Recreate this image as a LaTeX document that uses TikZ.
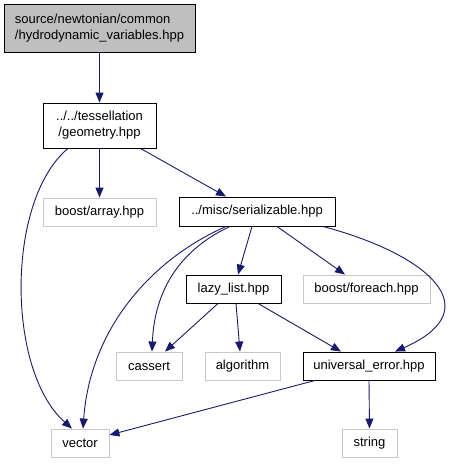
\documentclass[tikz,border=0pt]{standalone}
\usepackage{fontspec}
\setmainfont{Liberation Sans}
\usetikzlibrary{arrows.meta}
\definecolor{edgeblue}{HTML}{191970}
\definecolor{extgray}{HTML}{C8C8C8}
\definecolor{topfill}{HTML}{BFBFBF}
\begin{document}
\begin{tikzpicture}[x=1pt,y=-1pt,
  box/.style={draw=black,line width=0.9pt,fill=white,inner sep=0pt,minimum height=28pt,
    font=\fontsize{13}{16}\selectfont,text=black},
  extbox/.style={box,draw=extgray},
  edge/.style={draw=edgeblue,line width=0.9pt,-{Triangle[length=10pt,width=8pt]}}]
\useasboundingbox[fill=white] (0,0) rectangle (453,464);

\node[box,fill=topfill,minimum width=191pt,minimum height=48pt,align=left] (top) at (99.5,28)
  {source/newtonian/common\\/hydrodynamic\_variables.hpp};
\node[box,minimum width=113pt,minimum height=45pt,align=center] (geo) at (99.5,125.5)
  {../../tessellation\\/geometry.hpp};
\node[extbox,minimum width=113pt] (arr) at (99.5,212) {boost/array.hpp};
\node[box,minimum width=156pt,minimum height=29pt] (ser) at (257,211.5) {../misc/serializable.hpp};
\node[box,minimum width=95pt] (lazy) at (233.5,289) {lazy\_list.hpp};
\node[extbox,minimum width=127pt] (fore) at (366.5,289) {boost/foreach.hpp};
\node[extbox,minimum width=66pt] (cas) at (149,366) {cassert};
\node[extbox,minimum width=75pt] (alg) at (242.5,366) {algorithm};
\node[box,minimum width=132pt] (ue) at (369,366) {universal\_error.hpp};
\node[extbox,minimum width=58pt] (vec) at (80,443) {vector};
\node[extbox,minimum width=55pt] (str) at (369.5,443) {string};

\draw[edge] (top.south) -- (geo.north);
\draw[edge] (geo.south) -- (arr.north);
\draw[edge] ([xshift=-31.5pt]geo.south) .. controls (6,200) and (6,370) .. ([xshift=-8pt]vec.north);
\draw[edge] ([xshift=41pt]geo.south) -- ([xshift=-31pt]ser.north);
\draw[edge] ([xshift=-31pt]ser.south) .. controls (150,260) and (90,330) .. ([xshift=3pt]vec.north);
\draw[edge] ([xshift=-27pt]ser.south) .. controls (190,245) and (155,280) .. ([xshift=3pt]cas.north);
\draw[edge] ([xshift=-5pt]ser.south) -- ([xshift=4.5pt]lazy.north);
\draw[edge] ([xshift=20pt]ser.south) -- ([xshift=-21.5pt]fore.north);
\draw[edge] ([xshift=66pt]ser.south) .. controls (430,255) and (490,310) .. ([xshift=26pt]ue.north);
\draw[edge] ([xshift=-15.5pt]lazy.south) -- ([xshift=16pt]cas.north);
\draw[edge] ([xshift=2.5pt]lazy.south) -- ([xshift=-2.5pt]alg.north);
\draw[edge] ([xshift=24.5pt]lazy.south) -- ([xshift=-28pt]ue.north);
\draw[edge] ([xshift=-54pt]ue.south) -- ([yshift=8pt]vec.east);
\draw[edge] (ue.south) -- (str.north);
\end{tikzpicture}
\end{document}
